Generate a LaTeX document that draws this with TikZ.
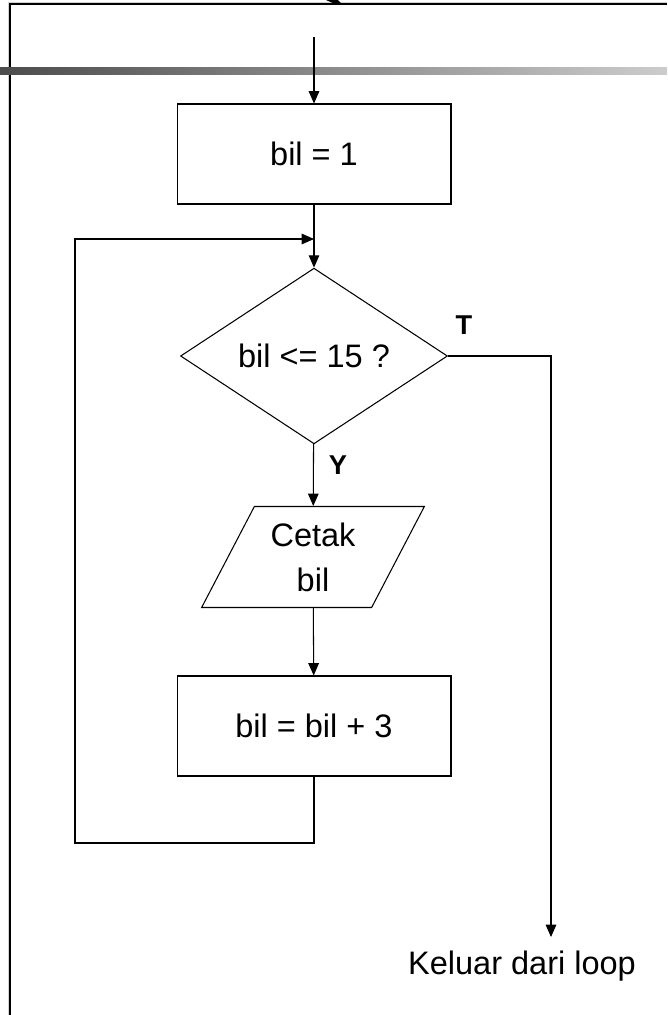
\documentclass[tikz,border=0pt]{standalone}
\usepackage{fontspec}
\setmainfont{Liberation Sans}
\usepackage{tikz}
\usetikzlibrary{shapes.geometric,arrows.meta}

\tikzset{
  arr/.style={-{Triangle[length=7pt,width=6pt]}},
  procbox/.style={draw,line width=0.6pt,minimum width=5.48cm,minimum height=2cm,inner sep=0pt},
  decide/.style={draw,line width=0.6pt,diamond,minimum width=5.34cm,minimum height=3.36cm,inner sep=0pt},
  iobox/.style={draw,line width=0.6pt,trapezium,trapezium left angle=61,trapezium right angle=119,
    trapezium stretches=true,minimum width=4.5cm,minimum height=2.02cm,inner sep=0pt,align=center},
  lbl/.style={font=\fontsize{15.5}{18}\selectfont\bfseries}
}

\begin{document}
\begin{tikzpicture}[x=0.02cm,y=-0.02cm,line width=0.6pt,font=\fontsize{18.5}{25.6}\selectfont]
          \useasboundingbox (0,0) rectangle (667,1015);
          % slide frame and bar
          \draw[gray!35,line width=0.5pt] (8.2,1015)--(8.2,2.2)--(667,2.2);
          \draw[line width=1.3pt] (10,1015)--(10,4)--(667,4);
          \shade[left color=black!70,right color=black!20] (0,67) rectangle (667,74);
          \fill (326,0)--(338,0)--(342,4)--(334,3.5)--cycle;
          % flowchart
          \coordinate (start) at (314,37);
          \node[procbox] (init) at (314,154) {bil = 1};
          \coordinate (merge) at (314,239);
          \node[decide] (cond) at (314,356) {bil <= 15 ?};
          \node[iobox] (out) at (313,557) {Cetak\\bil};
          \node[procbox] (inc) at (314,726) {bil = bil + 3};
          \coordinate (loopbot) at (75,843);
          \coordinate (turn) at (551,356);
          \coordinate (exit) at (551,937);
          \node (done) at (522,966) {Keluar dari loop};
          \node[lbl] (tlbl) at (464,325) {T};
          \node[lbl] (ylbl) at (338,465) {Y};
          \draw[arr] (start) -- (init);
          \draw[arr] (init) -- (cond);
          \draw[arr] (cond) -- (out);
          \draw[arr] (out) -- (inc);
          \draw[arr] (inc.south) |- (loopbot) |- (merge);
          \draw[arr] (cond.east) -- (turn) -- (exit);
        \end{tikzpicture}
\end{document}
